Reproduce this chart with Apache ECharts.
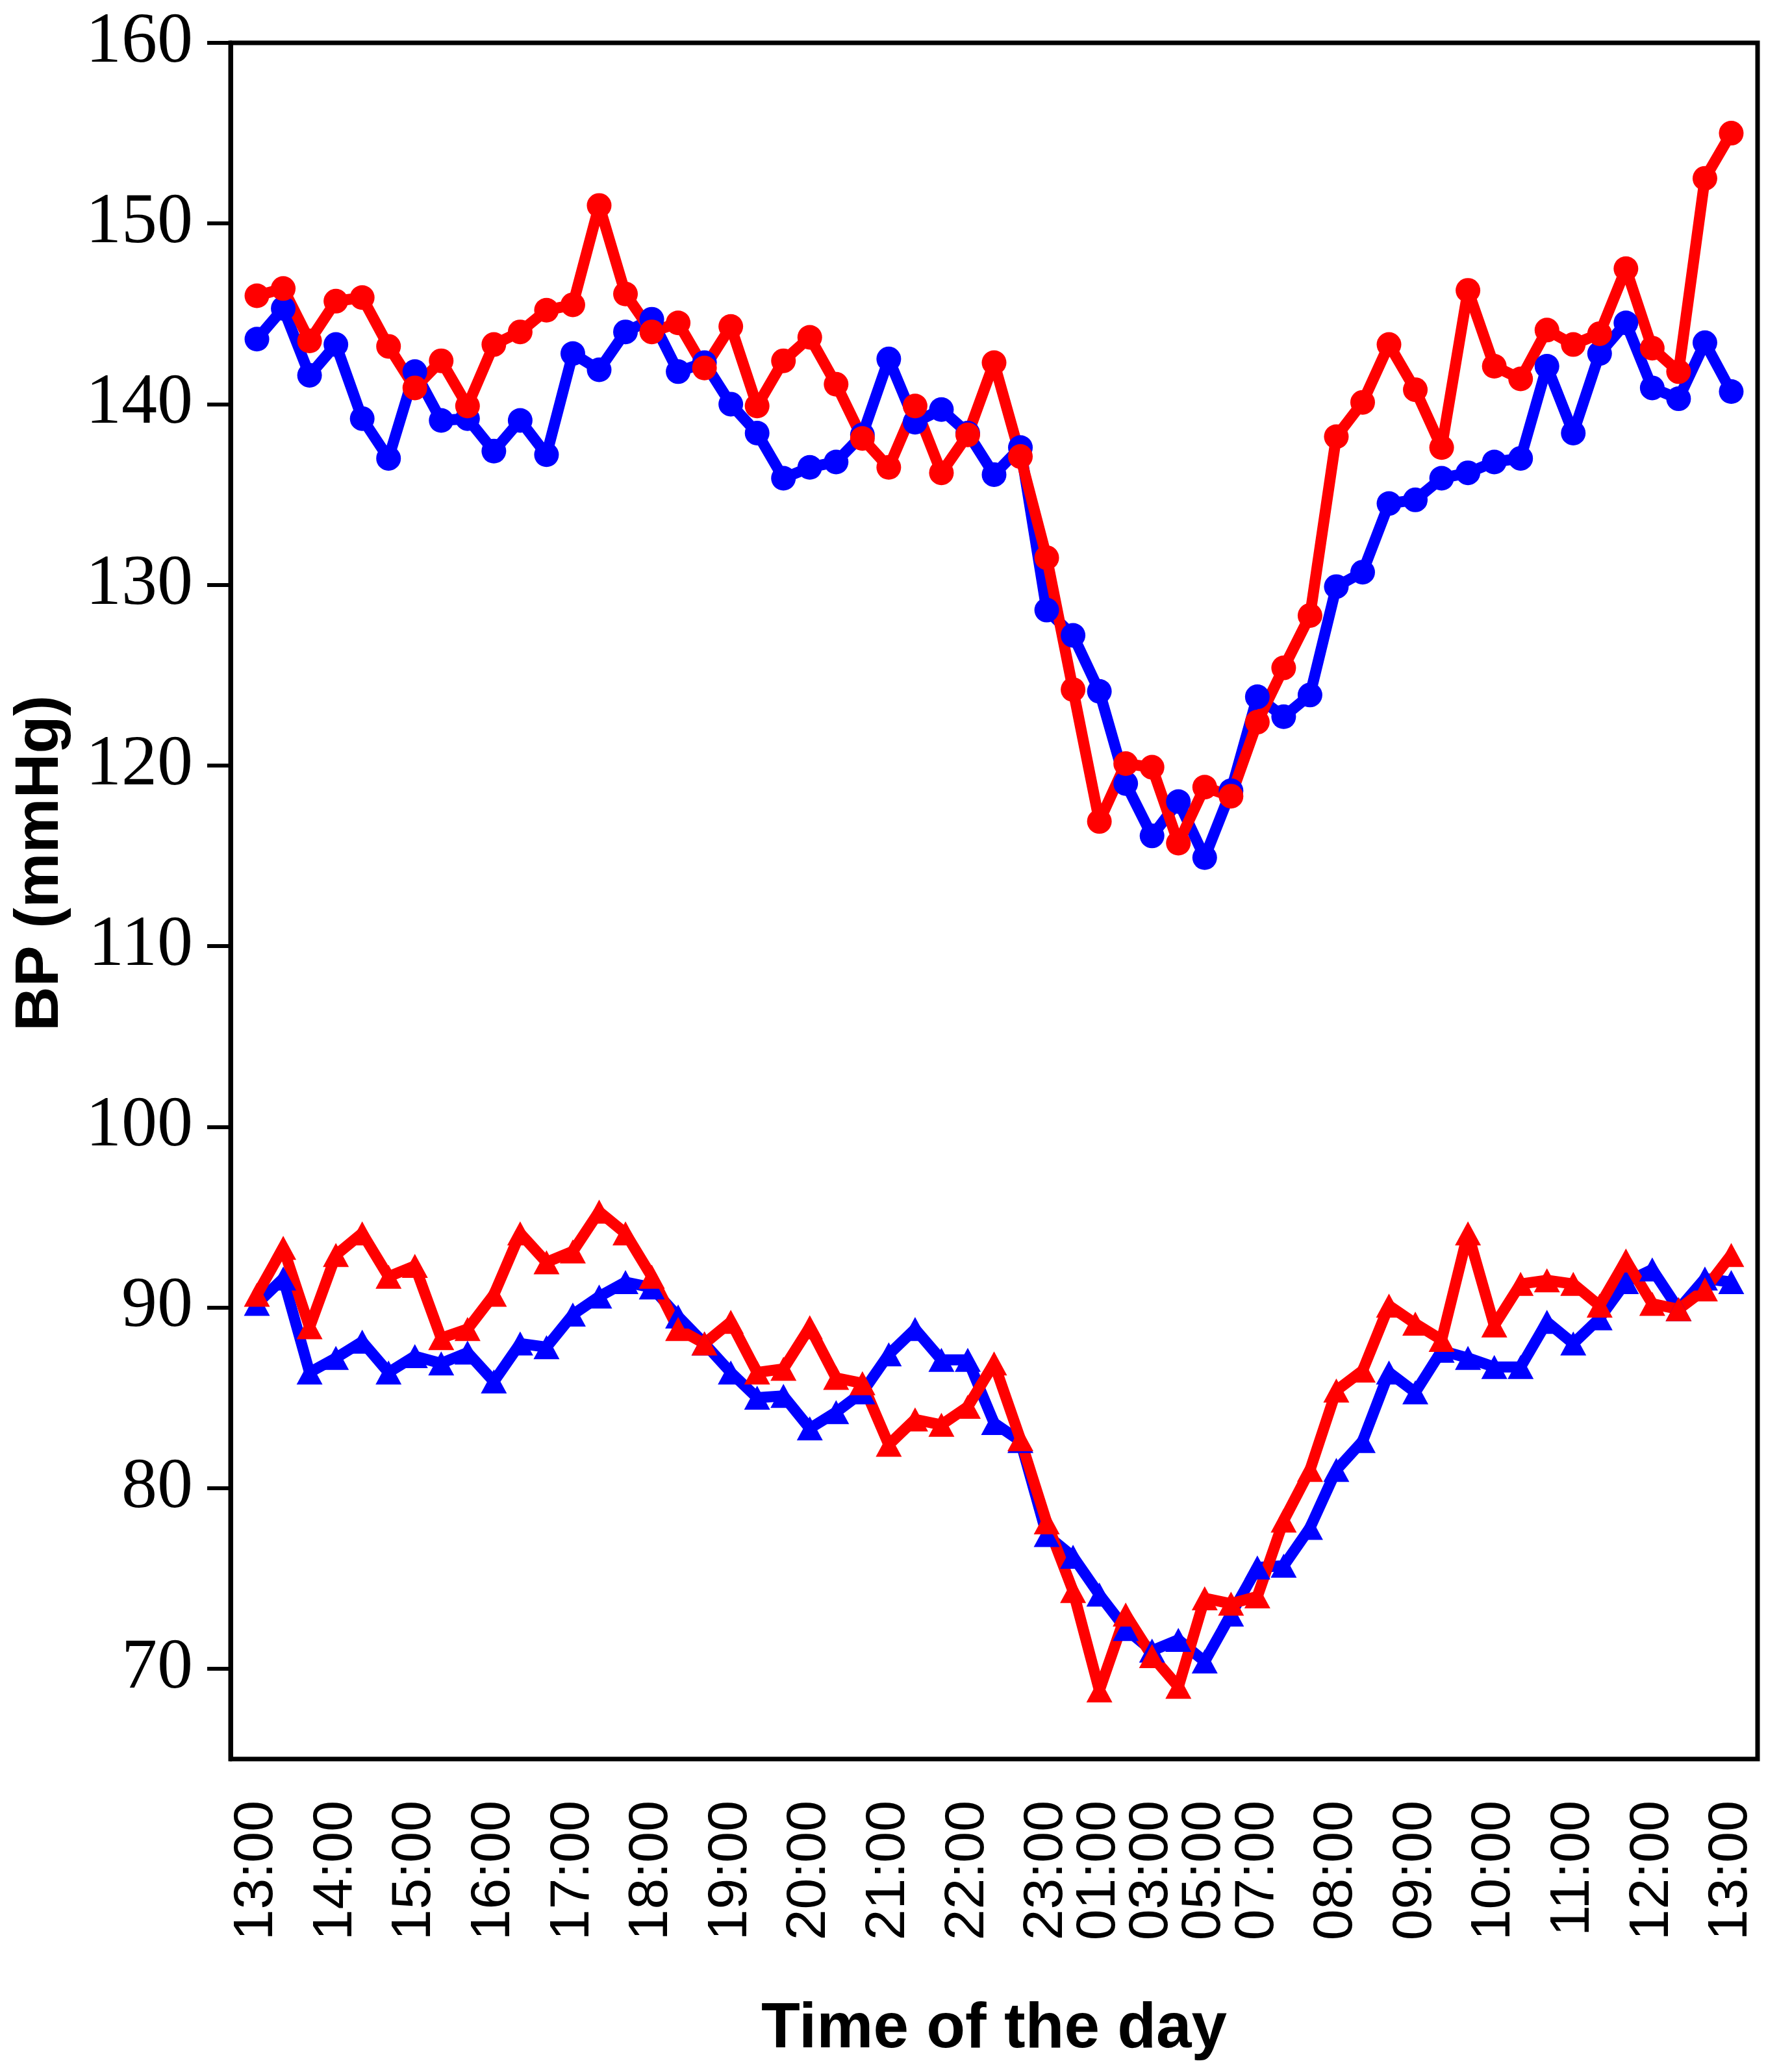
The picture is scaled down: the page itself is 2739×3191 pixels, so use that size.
<!DOCTYPE html>
<html>
<head>
<meta charset="utf-8">
<title>BP (mmHg) by time of the day</title>
<script src="https://cdn.jsdelivr.net/npm/echarts@6/dist/echarts.min.js"></script>
<style>
    html, body { margin: 0; padding: 0; background: #ffffff; }
    #bpChart { width: 2739px; height: 3191px; }
</style>
</head>
<body>
<div id="bpChart"></div>
<script>
// time points: 20 min steps by day, hourly at night
const categories = [
    '13:00', '13:20', '13:40', '14:00', '14:20', '14:40', '15:00', '15:20', '15:40', '16:00',
    '16:20', '16:40', '17:00', '17:20', '17:40', '18:00', '18:20', '18:40', '19:00', '19:20',
    '19:40', '20:00', '20:20', '20:40', '21:00', '21:20', '21:40', '22:00', '22:20', '22:40',
    '23:00', '00:00', '01:00', '02:00', '03:00', '04:00', '05:00', '06:00', '07:00', '07:20',
    '07:40', '08:00', '08:20', '08:40', '09:00', '09:20', '09:40', '10:00', '10:20', '10:40',
    '11:00', '11:20', '11:40', '12:00', '12:20', '12:40', '13:00'
];

const xTickLabels = [
    '13:00', '14:00', '15:00', '16:00', '17:00', '18:00', '19:00', '20:00', '21:00', '22:00',
    '23:00', '01:00', '03:00', '05:00', '07:00', '08:00', '09:00', '10:00', '11:00', '12:00', '13:00'
];

const yTicks = [70, 80, 90, 100, 110, 120, 130, 140, 150, 160];

// systolic, blue
const sbpBlue = [
    143.6, 145.3, 141.6, 143.3, 139.2, 137.0, 141.8, 139.1, 139.2, 137.4,
    139.1, 137.2, 142.8, 141.9, 144.0, 144.7, 141.8, 142.3, 140.0, 138.4,
    135.9, 136.5, 136.8, 138.3, 142.5, 139.0, 139.7, 138.4, 136.1, 137.6,
    128.6, 127.2, 124.1, 119.0, 116.1, 118.0, 114.9, 118.6, 123.8, 122.7,
    123.9, 129.9, 130.7, 134.5, 134.7, 135.9, 136.2, 136.8, 137.0, 142.1,
    138.4, 142.8, 144.5, 140.9, 140.3, 143.4, 140.7
];

// systolic, red
const sbpRed = [
    146.0, 146.4, 143.5, 145.7, 145.9, 143.2, 140.9, 142.4, 139.9, 143.3,
    144.0, 145.2, 145.5, 151.0, 146.1, 144.0, 144.5, 142.0, 144.3, 139.9,
    142.4, 143.7, 141.1, 138.1, 136.5, 139.9, 136.2, 138.3, 142.3, 137.1,
    131.5, 124.2, 116.9, 120.1, 119.9, 115.7, 118.8, 118.3, 122.4, 125.4,
    128.3, 138.2, 140.1, 143.3, 140.8, 137.6, 146.3, 142.1, 141.4, 144.1,
    143.3, 143.9, 147.5, 143.1, 141.8, 152.5, 155.0
];

// diastolic, blue
const dbpBlue = [
    90.2, 91.6, 86.4, 87.2, 88.1, 86.4, 87.3, 86.9, 87.5, 85.9,
    88.0, 87.8, 89.6, 90.6, 91.4, 91.1, 89.5, 88.0, 86.4, 85.0,
    85.1, 83.3, 84.2, 85.3, 87.4, 88.8, 87.1, 87.1, 83.6, 82.6,
    77.4, 76.2, 74.1, 72.2, 71.0, 71.6, 70.4, 73.0, 75.6, 75.7,
    77.8, 81.0, 82.6, 86.4, 85.3, 87.6, 87.2, 86.7, 86.7, 89.2,
    88.0, 89.4, 91.4, 92.1, 89.9, 91.6, 91.4
];

// diastolic, red
const dbpRed = [
    90.7, 93.3, 88.9, 92.9, 94.1, 91.7, 92.3, 88.3, 88.8, 90.7,
    94.1, 92.5, 93.1, 95.3, 94.1, 91.7, 88.8, 88.0, 89.2, 86.4,
    86.6, 88.9, 86.1, 85.8, 82.4, 83.8, 83.5, 84.5, 86.9, 82.7,
    78.1, 74.3, 68.8, 73.0, 70.7, 69.0, 73.9, 73.6, 74.0, 78.2,
    81.0, 85.4, 86.5, 90.1, 89.1, 88.2, 94.1, 89.0, 91.3, 91.5,
    91.3, 90.1, 92.6, 90.2, 89.9, 91.0, 92.9
];

const BLUE = '#0000ff';
const RED = '#ff0000';

// index of each tick label in the categories (13:00 appears twice)
function tickIndexes() {
    const out = [];
    let from = 0;
    xTickLabels.forEach(lbl => {
        const i = categories.indexOf(lbl, from);
        if (i >= 0) {
            out.push(i);
            from = i + 1;
        }
    });
    return out;
}

function makeSeries(values, color, symbol, size) {
    return {
        type: 'line',
        data: values.map((v, i) => [i, v]),
        symbol: symbol,
        symbolSize: size,
        showAllSymbol: true,
        lineStyle: { color: color, width: 17 },
        itemStyle: { color: color, borderWidth: 0 },
        emphasis: { disabled: true },
        z: 3
    };
}

function initBpChart() {
    const chartDom = document.getElementById('bpChart');
    const chart = echarts.init(chartDom, null, { renderer: 'canvas' });

    const option = {
        backgroundColor: '#ffffff',
        animation: false,
        grid: {
            left: 355,
            top: 66,
            right: 33,
            bottom: 482,
            show: true,
            borderColor: '#000000',
            borderWidth: 7,
            backgroundColor: 'transparent',
            outerBoundsMode: 'none'
        },
        xAxis: {
            type: 'value',
            min: -1,
            max: categories.length,
            name: 'Time of the day',
            nameLocation: 'middle',
            nameGap: 368,
            nameTextStyle: {
                fontFamily: '"Liberation Sans", Arial, sans-serif',
                fontWeight: 'bold',
                fontSize: 98,
                color: '#000000'
            },
            axisLine: { show: false },
            axisTick: { show: false },
            splitLine: { show: false },
            axisLabel: {
                customValues: tickIndexes(),
                rotate: 90,
                margin: 64,
                fontFamily: '"Liberation Sans", Arial, sans-serif',
                fontSize: 86,
                color: '#000000',
                formatter: function (val) {
                    return categories[val] || '';
                }
            }
        },
        yAxis: {
            type: 'value',
            min: 65,
            max: 160,
            name: 'BP (mmHg)',
            nameLocation: 'middle',
            nameGap: 245,
            nameTextStyle: {
                fontFamily: '"Liberation Sans", Arial, sans-serif',
                fontWeight: 'bold',
                fontSize: 95,
                color: '#000000',
                padding: [0, 0, 0, 116]
            },
            axisLine: { show: true, onZero: false, lineStyle: { color: '#000000', width: 7 } },
            axisTick: {
                show: true,
                customValues: yTicks,
                length: 36,
                lineStyle: { color: '#000000', width: 6 }
            },
            splitLine: { show: false },
            axisLabel: {
                customValues: yTicks,
                margin: 58,
                fontFamily: '"Liberation Serif", "Times New Roman", serif',
                fontSize: 110,
                color: '#000000'
            }
        },
        series: [
            makeSeries(sbpBlue, BLUE, 'circle', 38),
            makeSeries(dbpBlue, BLUE, 'triangle', [40, 37]),
            makeSeries(sbpRed, RED, 'circle', 38),
            makeSeries(dbpRed, RED, 'triangle', [40, 37])
        ]
    };

    chart.setOption(option);
}

document.addEventListener('DOMContentLoaded', function () {
    if (typeof echarts !== 'undefined') {
        initBpChart();
    }
});
</script>
</body>
</html>
